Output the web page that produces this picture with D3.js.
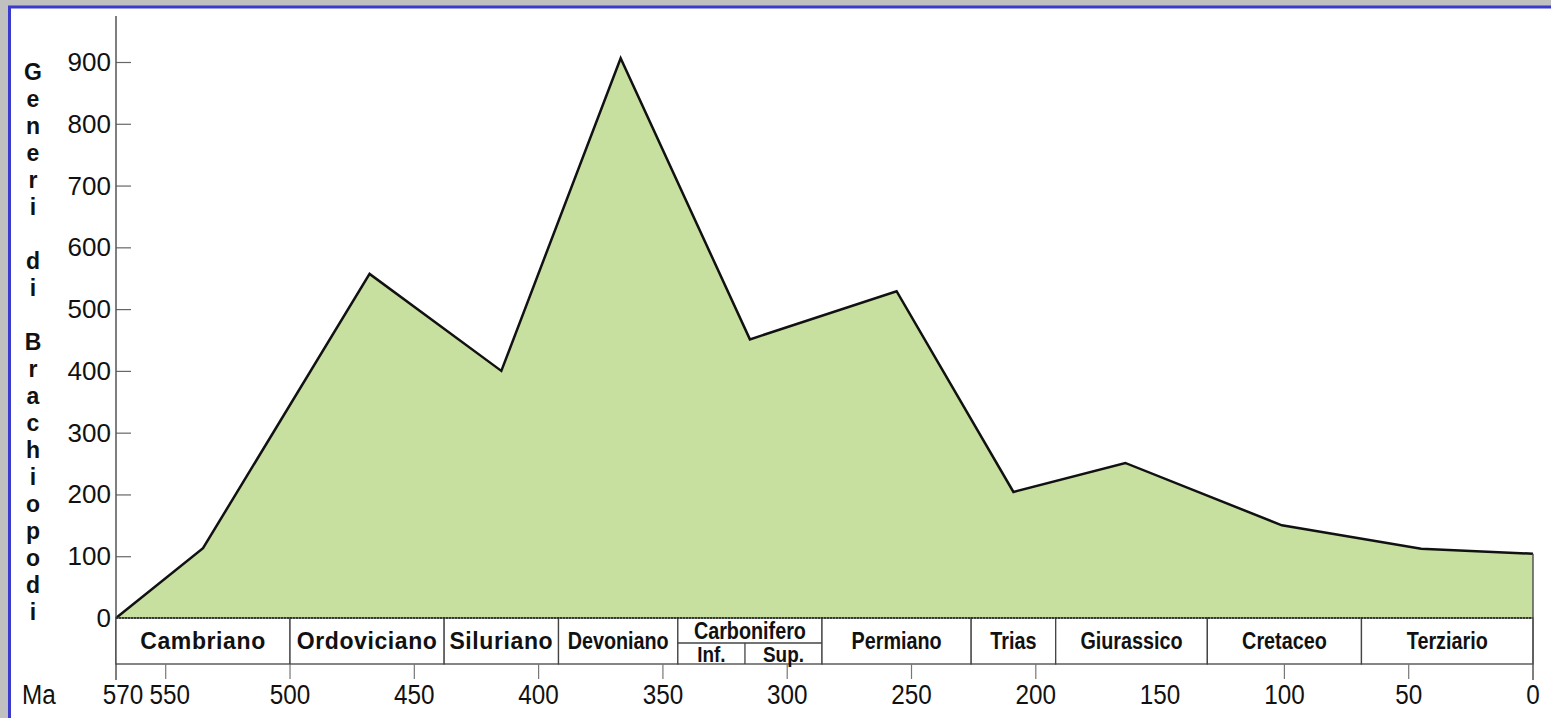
<!DOCTYPE html>
<html>
<head>
<meta charset="utf-8">
<script src="https://cdn.jsdelivr.net/npm/d3@7"></script>
<style>
  html, body { margin: 0; padding: 0; background: #c0c0c0; overflow: hidden; }
  svg { display: block; font-family: "Liberation Sans", Arial, Helvetica, sans-serif; }
</style>
</head>
<body>
<svg id="chart"></svg>
<script>
const width = 1551;
const height = 718;

// age (Ma) and number of brachiopod genera at each vertex of the curve
const ages   = [570, 535, 468, 415, 367, 315, 256, 209, 164, 101, 45, 0];
const genera = [0, 113, 557, 400, 906, 451, 529, 204, 251, 150, 112, 104];

// geological periods (start age in Ma), the last one ends at 0
const periods      = ["Cambriano", "Ordoviciano", "Siluriano", "Devoniano", "Carbonifero",
                      "Permiano", "Trias", "Giurassico", "Cretaceo", "Terziario"];
const periodStarts = [570, 500, 438, 392, 344, 286, 226, 192, 131, 69];
const carboSub       = ["Inf.", "Sup."];
const carboSubStarts = [344, 317];

const yTicks = [0, 100, 200, 300, 400, 500, 600, 700, 800, 900];
const xLabels = [570, 550, 500, 450, 400, 350, 300, 250, 200, 150, 100, 50, 0];
const xMarks  = [550, 500, 450, 400, 350, 300, 250, 200, 100, 50];
const yTitle = "Generi di Brachiopodi";

const x = d3.scaleLinear().domain([570, 0]).range([116, 1533]);
const y = d3.scaleLinear().domain([0, 900]).range([618, 62]);
const bandTop = y(0), bandBot = 664;

const svg = d3.select('#chart')
    .attr('width', width)
    .attr('height', height);

// white panel with blue frame
svg.append('rect')
    .attr('x', 9.5).attr('y', 7)
    .attr('width', width + 20).attr('height', height + 20)
    .attr('fill', '#fff')
    .attr('stroke', '#3a3acc')
    .attr('stroke-width', 3);

const pts = ages.map((a, i) => [a, genera[i]]);

var area = d3.area()
    .x(d => x(d[0]))
    .y0(y(0))
    .y1(d => y(d[1]));
var line = d3.line()
    .x(d => x(d[0]))
    .y(d => y(d[1]));

svg.append('path')
    .attr('d', area(pts))
    .attr('fill', '#c7e0a0');

svg.append('path')
    .attr('d', line(pts))
    .attr('fill', 'none')
    .attr('stroke', '#111')
    .attr('stroke-width', 2.5)
    .attr('stroke-linejoin', 'miter');

// y axis
var yAxis = d3.axisRight(y)
    .tickValues(yTicks)
    .tickSize(15)
    .tickFormat('');
var gy = svg.append('g')
    .attr('transform', 'translate(' + x(570) + ',0)')
    .call(yAxis);
gy.select('.domain').remove();
gy.selectAll('.tick line').attr('stroke', '#666').attr('stroke-width', 1.2);

svg.append('line')
    .attr('x1', x(570)).attr('x2', x(570))
    .attr('y1', 16).attr('y2', 680)
    .attr('stroke', '#555').attr('stroke-width', 1.5);

svg.selectAll('.ylab')
    .data(yTicks)
    .enter().append('text')
    .attr('class', 'ylab')
    .attr('x', x(570) - 5)
    .attr('y', d => y(d) + 9)
    .attr('text-anchor', 'end')
    .attr('font-size', 26)
    .attr('fill', '#111')
    .text(d => d);

// vertical title, one letter per line
svg.selectAll('.ytitle')
    .data(yTitle.split(''))
    .enter().append('text')
    .attr('class', 'ytitle')
    .attr('x', 33)
    .attr('y', (d, i) => 72 + i * 27)
    .attr('dy', '0.36em')
    .attr('text-anchor', 'middle')
    .attr('font-size', 23)
    .attr('font-weight', 'bold')
    .attr('fill', '#111')
    .text(d => d);

// period band
const periodEnds = periodStarts.slice(1).concat([0]);
var band = svg.append('g');
band.selectAll('rect')
    .data(periods)
    .enter().append('rect')
    .attr('x', (d, i) => x(periodStarts[i]))
    .attr('y', bandTop)
    .attr('width', (d, i) => x(periodEnds[i]) - x(periodStarts[i]))
    .attr('height', bandBot - bandTop)
    .attr('fill', '#fff')
    .attr('stroke', '#444')
    .attr('stroke-width', 1.3);

// first three labels are set wide, the others condensed
band.selectAll('text.period')
    .data(periods)
    .enter().append('text')
    .attr('class', 'period')
    .attr('transform', (d, i) => 'translate(' + (x(periodStarts[i]) + x(periodEnds[i])) / 2 + ','
        + (d === 'Carbonifero' ? 639 : 649) + ')' + (i < 3 ? '' : ' scale(0.86,1)'))
    .attr('text-anchor', 'middle')
    .attr('font-size', 23)
    .attr('font-weight', 'bold')
    .attr('fill', '#111')
    .attr('letter-spacing', (d, i) => i < 3 ? 0.6 : 0)
    .text(d => d);

// Carbonifero subdivisions
const ci = periods.indexOf('Carbonifero');
const carboEnds = carboSubStarts.slice(1).concat([periodEnds[ci]]);
band.append('line')
    .attr('x1', x(periodStarts[ci])).attr('x2', x(periodEnds[ci]))
    .attr('y1', 643).attr('y2', 643)
    .attr('stroke', '#444').attr('stroke-width', 1.3);
band.selectAll('line.sub')
    .data(carboSubStarts.slice(1))
    .enter().append('line')
    .attr('class', 'sub')
    .attr('x1', d => x(d)).attr('x2', d => x(d))
    .attr('y1', 643).attr('y2', bandBot)
    .attr('stroke', '#444').attr('stroke-width', 1.3);
band.selectAll('text.sub')
    .data(carboSub)
    .enter().append('text')
    .attr('class', 'sub')
    .attr('transform', (d, i) => 'translate(' + (x(carboSubStarts[i]) + x(carboEnds[i])) / 2 + ',662) scale(0.86,1)')
    .attr('text-anchor', 'middle')
    .attr('font-size', 22)
    .attr('font-weight', 'bold')
    .attr('fill', '#111')
    .text(d => d);

// zero line (dotted)
svg.append('line')
    .attr('x1', x(570)).attr('x2', x(0))
    .attr('y1', y(0)).attr('y2', y(0))
    .attr('stroke', '#222').attr('stroke-width', 1.6)
    .attr('stroke-dasharray', '2,1');

// right edge down to the 0 Ma tick
svg.append('line')
    .attr('x1', x(0)).attr('x2', x(0))
    .attr('y1', y(genera[genera.length - 1])).attr('y2', 680)
    .attr('stroke', '#555').attr('stroke-width', 1.5);

// age ticks and labels
svg.selectAll('line.xmark')
    .data(xMarks)
    .enter().append('line')
    .attr('class', 'xmark')
    .attr('x1', d => x(d)).attr('x2', d => x(d))
    .attr('y1', bandBot).attr('y2', 679)
    .attr('stroke', '#777').attr('stroke-width', 1.2);

svg.selectAll('text.xlab')
    .data(xLabels)
    .enter().append('text')
    .attr('class', 'xlab')
    .attr('transform', d => 'translate(' + (x(d) + (d === 570 ? 7 : d === 550 ? 4 : 0)) + ',704) scale(0.9,1)')
    .attr('text-anchor', 'middle')
    .attr('font-size', 27)
    .attr('fill', '#111')
    .text(d => d);

svg.append('text')
    .attr('transform', 'translate(22,704) scale(0.9,1)')
    .attr('font-size', 27)
    .attr('fill', '#111')
    .text('Ma');
</script>
</body>
</html>
